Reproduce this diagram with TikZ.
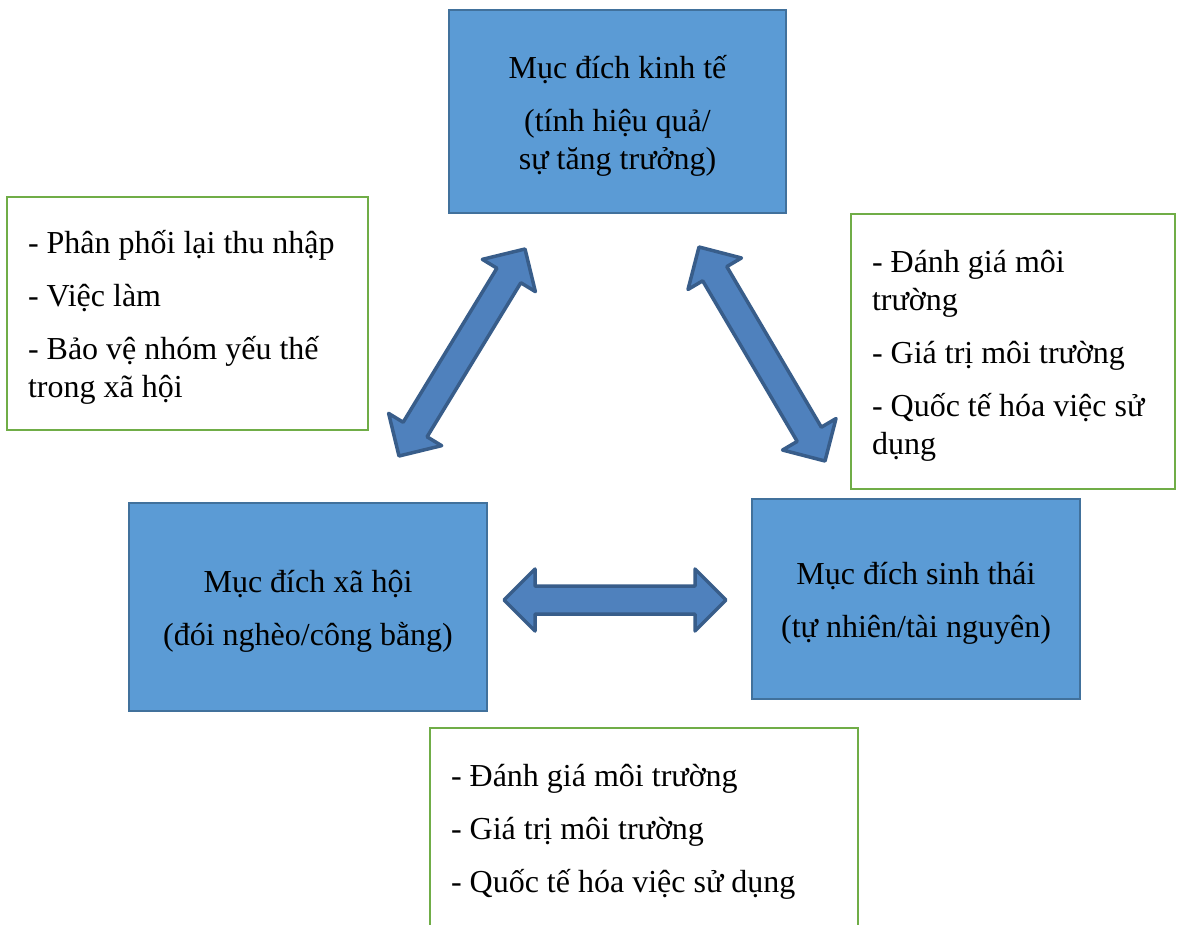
\documentclass[tikz,border=0pt]{standalone}
\usepackage{fontspec}
\setmainfont{Liberation Serif}
\usetikzlibrary{calc}
\definecolor{boxfill}{HTML}{5B9BD5}
\definecolor{boxline}{HTML}{41719C}
\definecolor{greenline}{HTML}{70AD47}
\definecolor{arrfill}{HTML}{4F81BD}
\definecolor{arrline}{HTML}{385D8A}
\newcommand\hl{31pt}
\newcommand\hw{31pt}
\newcommand\sw{14pt}
\newcommand\dblarrow[2]{%
  \draw[blockarrow] (#1)
    -- ($(#1)!\hl!(#2)!\hw!90:(#2)$)
    -- ($(#1)!\hl!(#2)!\sw!90:(#2)$)
    -- ($(#2)!\hl!(#1)!\sw!-90:(#1)$)
    -- ($(#2)!\hl!(#1)!\hw!-90:(#1)$)
    -- (#2)
    -- ($(#2)!\hl!(#1)!\hw!90:(#1)$)
    -- ($(#2)!\hl!(#1)!\sw!90:(#1)$)
    -- ($(#1)!\hl!(#2)!\sw!-90:(#2)$)
    -- ($(#1)!\hl!(#2)!\hw!-90:(#2)$)
    -- cycle;}
\tikzset{
  txt/.style={font=\fontsize{32}{38}\selectfont, inner sep=0pt},
  ctxt/.style={txt, align=center},
  ltxt/.style={txt, align=flush left},
  bluebox/.style={draw=boxline, fill=boxfill, line width=2pt, inner sep=0pt},
  greenbox/.style={draw=greenline, fill=white, line width=2pt, inner sep=0pt},
  blockarrow/.style={draw=arrline, fill=arrfill, line width=3.5pt, line join=round}
}
\begin{document}
\begin{tikzpicture}[x=1pt,y=-1pt]
\useasboundingbox[fill=white] (0,0) rectangle (1177,924);
\begin{scope}
\clip (0,0) rectangle (1177,924);
% blue boxes
\node[bluebox, minimum width=337pt, minimum height=203pt] (eco) at (617.5,111.5) {};
\node[ctxt] (eco-t) at ($(eco.center)+(0,4)$)
  {Mục đích kinh tế\\[15pt](tính hiệu quả/\\sự tăng trưởng)};
\node[bluebox, minimum width=358pt, minimum height=208pt] (soc) at (308,607) {};
\node[ctxt] (soc-t) at ($(soc.center)+(0,4)$)
  {Mục đích xã hội\\[15pt](đói nghèo/công bằng)};
\node[bluebox, minimum width=328pt, minimum height=200pt] (env) at (916,599) {};
\node[ctxt] (env-t) at ($(env.center)+(0,4)$)
  {Mục đích sinh thái\\[15pt](tự nhiên/tài nguyên)};
% green boxes
\node[greenbox, minimum width=361pt, minimum height=233pt] (gl) at (187.5,313.5) {};
\node[ltxt, text width=319pt] (gl-t) at ($(gl.center)+(0,4)$)
  {- Phân phối lại thu nhập\\[15pt]- Việc làm\\[15pt]- Bảo vệ nhóm yếu thế\\trong xã hội};
\node[greenbox, minimum width=324pt, minimum height=275pt] (gr) at (1013,351.5) {};
\node[ltxt, text width=282pt] (gr-t) at ($(gr.center)+(0,4)$)
  {- Đánh giá môi\\trường\\[15pt]- Giá trị môi trường\\[15pt]- Quốc tế hóa việc sử\\dụng};
\node[greenbox, minimum width=428pt, minimum height=200pt] (gb) at (644,828) {};
\node[ltxt, text width=386pt] (gb-t) at ($(gb.center)+(0,4)$)
  {- Đánh giá môi trường\\[15pt]- Giá trị môi trường\\[15pt]- Quốc tế hóa việc sử dụng};
% block arrows
\coordinate (l1) at (399,456);
\coordinate (l2) at (525,249);
\coordinate (r1) at (699,247);
\coordinate (r2) at (825,461);
\coordinate (h1) at (504,600);
\coordinate (h2) at (726,600);
\dblarrow{l1}{l2}
\dblarrow{r1}{r2}
\dblarrow{h1}{h2}
\end{scope}
\end{tikzpicture}
\end{document}
